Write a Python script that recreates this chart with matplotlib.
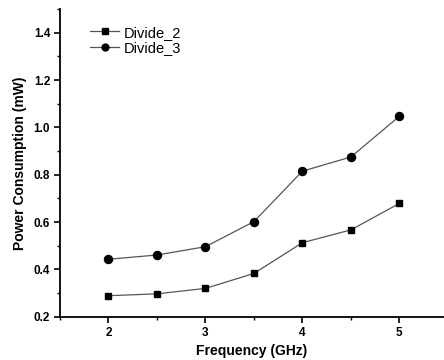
import matplotlib
matplotlib.use('Agg')
import matplotlib.pyplot as plt
from matplotlib.ticker import MultipleLocator

# Data
freq = [2.0, 2.5, 3.0, 3.5, 4.0, 4.5, 5.0]
divide_2 = [0.289, 0.297, 0.320, 0.383, 0.513, 0.567, 0.679]
divide_3 = [0.443, 0.461, 0.496, 0.602, 0.815, 0.875, 1.047]

plt.rcParams['font.family'] = ['Liberation Sans', 'DejaVu Sans']

fig = plt.figure(figsize=(4.44, 3.6), dpi=100)
ax = fig.add_axes([0.135, 0.12, 0.865, 0.855])

ax.plot(freq, divide_2, marker='s', color='#555555', linewidth=0.9,
        markerfacecolor='black', markeredgecolor='black', markersize=5.0, label='Divide_2')
ax.plot(freq, divide_3, marker='o', color='#555555', linewidth=0.9,
        markerfacecolor='black', markeredgecolor='black', markersize=5.8, label='Divide_3')

ax.set_xlim(1.5, 5.46)
ax.set_ylim(0.2, 1.5)
ax.xaxis.set_major_locator(MultipleLocator(1))
ax.xaxis.set_minor_locator(MultipleLocator(0.5))
ax.yaxis.set_major_locator(MultipleLocator(0.2))
ax.yaxis.set_minor_locator(MultipleLocator(0.1))
ax.set_yticks([0.2, 0.4, 0.6, 0.8, 1.0, 1.2, 1.4])

ax.spines['top'].set_visible(False)
ax.spines['right'].set_visible(False)
ax.spines['left'].set_linewidth(1.3)
ax.spines['bottom'].set_linewidth(1.3)
ax.tick_params(which='major', direction='out', length=4, width=1.2, labelsize=8.5, pad=3)
ax.tick_params(which='minor', direction='out', length=2.5, width=1.0)
for lbl in ax.get_xticklabels() + ax.get_yticklabels():
    lbl.set_fontweight('bold')

ax.set_xlabel('Frequency (GHz)', fontsize=10, fontweight='bold', labelpad=4)
ax.set_ylabel('Power Consumption (mW)', fontsize=10, fontweight='bold', labelpad=5)

ax.legend(loc='upper left', bbox_to_anchor=(0.06, 0.97), frameon=False, fontsize=10.5,
          handlelength=2.0, handletextpad=0.3, labelspacing=0.1, borderpad=0,
          markerscale=0.85)

fig.savefig('out.png', dpi=100)
